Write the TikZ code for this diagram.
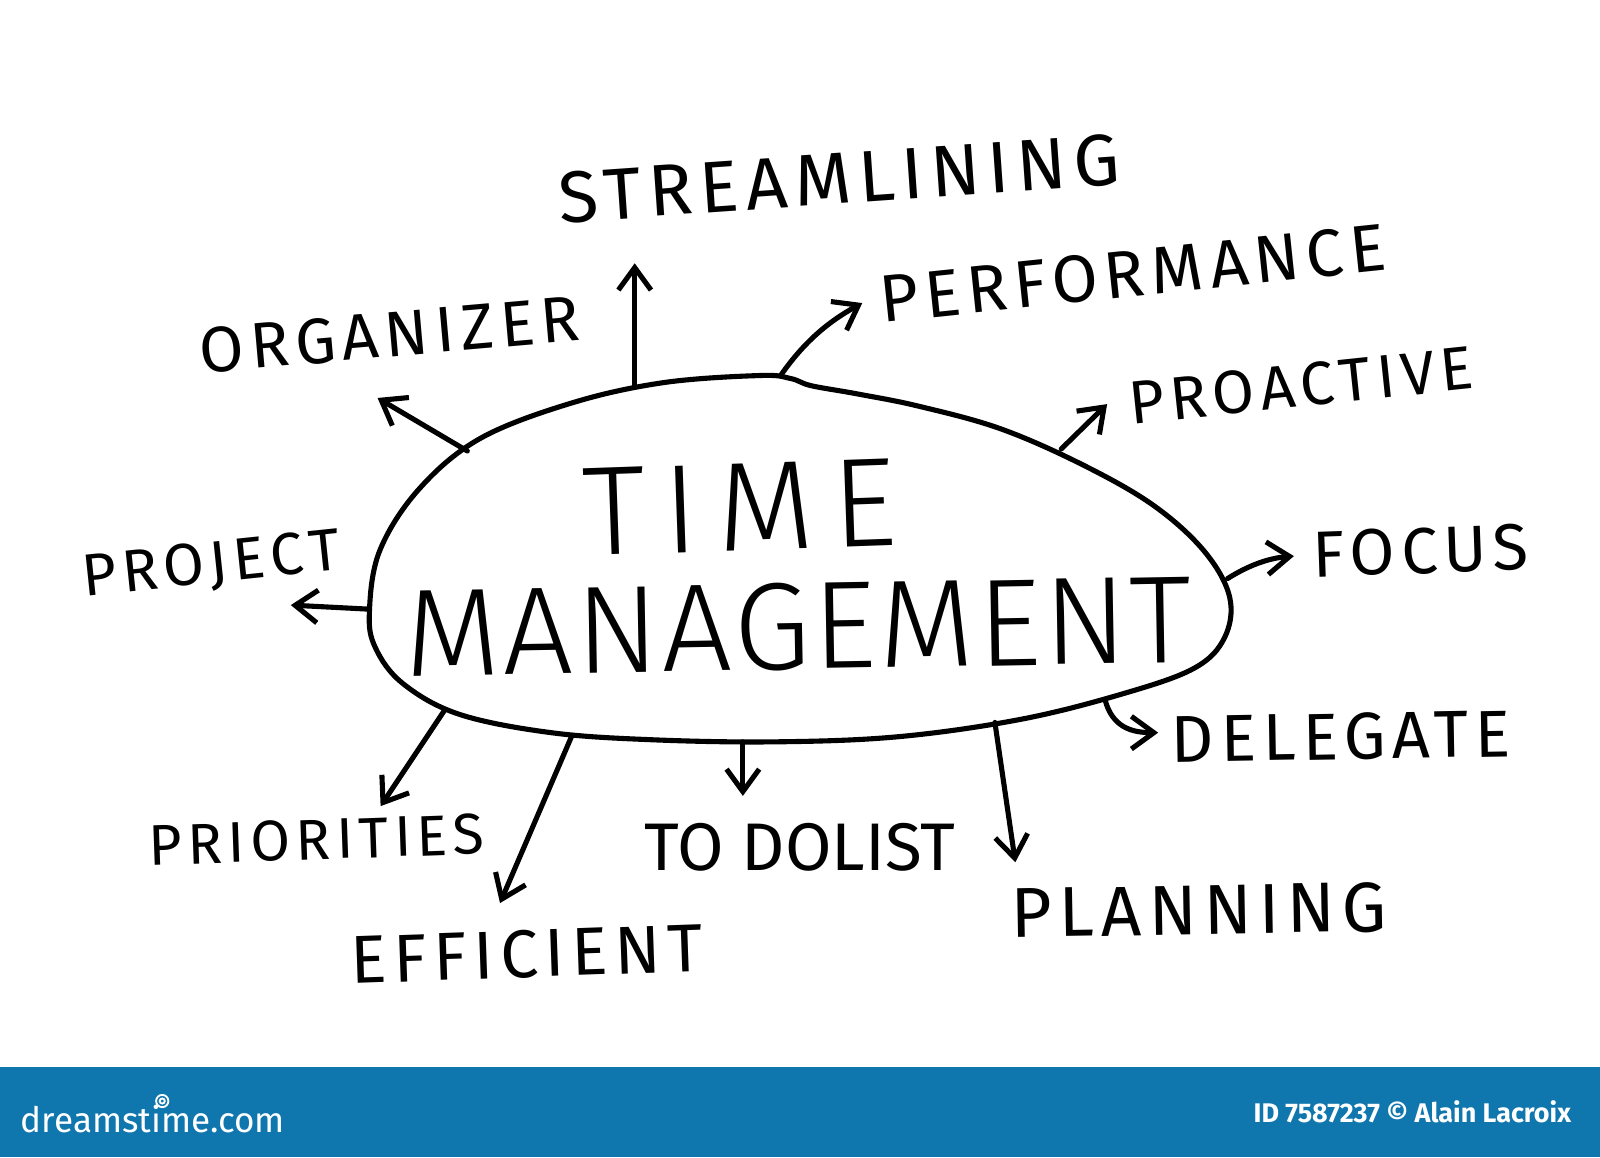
\documentclass[tikz,border=0pt]{standalone}
\usepackage{fontspec}
\setmainfont{Fira Sans}
\IfFontExistsTF{Fira Sans Light}{\newfontfamily\thinfont{Fira Sans Light}}{%
  \IfFontExistsTF{Fira Sans ExtraLight}{\newfontfamily\thinfont{Fira Sans ExtraLight}}{\newfontfamily\thinfont{Carlito}}}
\usetikzlibrary{arrows.meta}
\definecolor{barblue}{HTML}{0F77AE}
\begin{document}
\begin{tikzpicture}[x=0.5pt,y=-0.5pt,
  lbl/.style={inner sep=0pt, anchor=center, text=black},
  fs/.style={font=\fontsize{#1}{#1}\selectfont\addfontfeatures{LetterSpace=10}},
  arr/.style={-{Straight Barb[length=11pt,width=16pt,line width=2.5pt]}, line width=2.5pt, line cap=round, line join=round},
  blob/.style={line width=2.5pt, line join=round}]
\fill[white] (0,0) rectangle (1568,1134);
\path[use as bounding box] (0,0) rectangle (1568,1134);
\fill[barblue] (0,1046) rectangle (1568,1134);

% central blob
\draw[blob] plot[smooth cycle, tension=0.6] coordinates {
 (362,600) (372,540) (410,480) (470,430) (560,395) (650,375) (745,368) (775,371) (795,378)
 (840,386) (900,398) (980,420) (1060,455) (1130,495) (1180,540) (1205,585) (1200,625)
 (1170,655) (1100,680) (1000,705) (880,722) (760,727) (640,725) (540,718) (450,700)
 (395,670) (368,635)};

% central text
\node[lbl,font=\thinfont\fontsize{62}{62}\selectfont\addfontfeatures{LetterSpace=14},rotate=2,text depth=0pt] (time) at (725,497) {TIME};
\node[lbl,font=\thinfont\fontsize{61}{61}\selectfont\addfontfeatures{LetterSpace=2},rotate=1] (mgmt) at (782,614) {MANAGEMENT};

% labels
\node[lbl,fs=35.7,rotate=4] (streamlining) at (822,175) {STREAMLINING};
\node[lbl,fs=32.7,rotate=6] (performance) at (1110,268) {PERFORMANCE};
\node[lbl,fs=31.5,rotate=5] (organizer) at (382,328) {ORGANIZER};
\node[lbl,fs=29.9,rotate=6] (proactive) at (1275,378) {PROACTIVE};
\node[lbl,fs=32,rotate=2] (focus) at (1392,540) {FOCUS};
\node[lbl,fs=29.1,rotate=6] (project) at (207,555) {PROJECT};
\node[lbl,fs=32.5,rotate=1] (delegate) at (1314,722) {DELEGATE};
\node[lbl,fs=28.1,rotate=2] (priorities) at (310,823) {PRIORITIES};
\node[lbl,fs=33.2,rotate=2] (efficient) at (516,935) {EFFICIENT};
\node[lbl,font=\fontsize{33}{33}\selectfont,rotate=0] (todolist) at (784,830) {TO DOLIST};
\node[lbl,fs=34.6,rotate=1] (planning) at (1175,892) {PLANNING};

% connectors
\coordinate (s0) at (622,378); \coordinate (s1) at (622,258);
\draw[arr] (s0) -- (s1);
\coordinate (p0) at (765,368); \coordinate (p1) at (845,297);
\draw[arr] (p0) .. controls (788,335) and (812,315) .. (p1);
\coordinate (o0) at (458,442); \coordinate (o1) at (370,390);
\draw[arr] (o0) -- (o1);
\coordinate (a0) at (1040,440); \coordinate (a1) at (1085,396);
\draw[arr] (a0) -- (a1);
\coordinate (f0) at (1203,567); \coordinate (f1) at (1268,545);
\draw[arr] (f0) .. controls (1222,555) and (1242,547) .. (f1);
\coordinate (j0) at (362,597); \coordinate (j1) at (285,593);
\draw[arr] (j0) -- (j1);
\coordinate (d0) at (1083,686); \coordinate (d1) at (1135,718);
\draw[arr] (d0) .. controls (1090,712) and (1108,718) .. (d1);
\coordinate (r0) at (435,697); \coordinate (r1) at (373,790);
\draw[arr] (r0) -- (r1);
\coordinate (e0) at (560,722); \coordinate (e1) at (490,885);
\draw[arr] (e0) -- (e1);
\coordinate (t0) at (728,727); \coordinate (t1) at (728,780);
\draw[arr] (t0) -- (t1);
\coordinate (n0) at (975,708); \coordinate (n1) at (995,845);
\draw[arr] (n0) -- (n1);

% footer
\node[lbl,anchor=west,text=white,font=\fontsize{17.2}{17.2}\selectfont] (site) at (20,1097) {dreamstime.com};
\draw[white,line width=0.9pt] (159,1079) circle (6);
\draw[white,line width=0.9pt] (159,1079) circle (2.5);
\node[lbl,anchor=east,text=white,font=\bfseries\fontsize{13.2}{13.2}\selectfont] (credit) at (1540,1090) {ID 7587237 © Alain Lacroix};
\end{tikzpicture}
\end{document}
